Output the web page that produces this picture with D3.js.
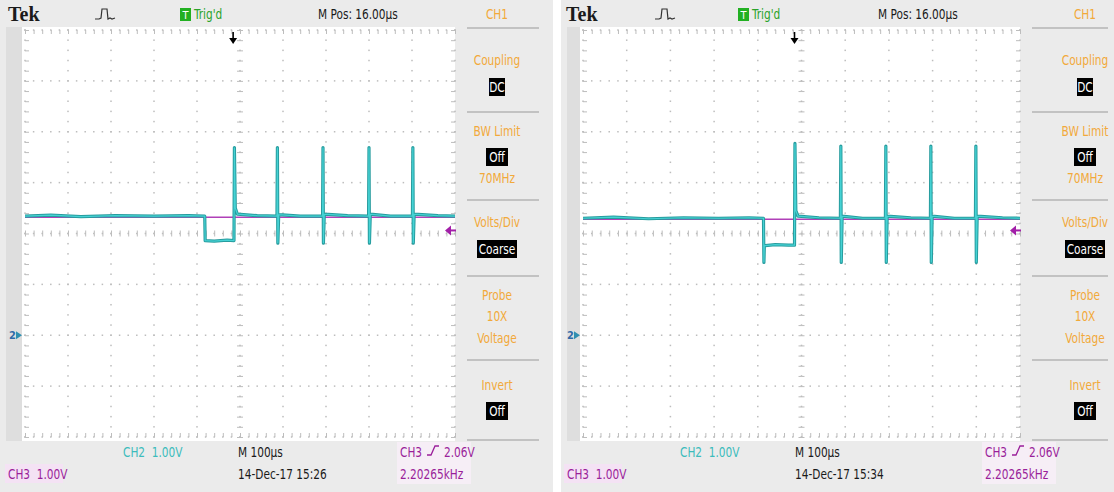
<!DOCTYPE html>
<html><head><meta charset="utf-8">
<script src="https://cdn.jsdelivr.net/npm/d3@7"></script>
<style>
body{margin:0;background:#fff}
svg{display:block}
text{font-family:"Liberation Sans Narrow","DejaVu Sans Condensed","Liberation Sans",sans-serif}
</style>
</head><body>
<svg id="c" width="1114" height="492"></svg>
<script>
// ---------------- data ----------------
const timeDomainUs = [0, 1000];          // 10 div x 100 us
const voltDomain = [-2, 6];              // 8 div x 1 V, ground marker 2 div below centre
const gridTimeTicks = d3.range(0, 1001, 100);
const gridVoltTicks = d3.range(-2, 6.001, 1);
const trigTimeUs = 484;                  // M Pos 16.00us left of centre
const trigLevelV = 2.06;

// capture 15:26 (left)
const leftTimes = [0, 60, 130, 210, 300, 380, 418, 419, 440, 470, 486, 487, 489, 494, 540, 586, 587, 588, 590, 640, 692, 693, 694, 696, 750, 799, 800, 801, 803, 850, 901, 902, 903, 905, 960, 1000];
const leftCh2 =  [2.34, 2.36, 2.33, 2.35, 2.34, 2.35, 2.34, 1.86, 1.85, 1.87, 1.86, 3.69, 2.50, 2.38, 2.35, 2.34, 3.69, 1.81, 2.37, 2.34, 2.34, 3.69, 1.81, 2.38, 2.35, 2.34, 3.69, 1.81, 2.38, 2.34, 2.34, 3.69, 1.81, 2.38, 2.35, 2.34];
// capture 15:34 (right)
const rightTimes = [0, 70, 150, 230, 310, 380, 413, 414, 415, 417, 440, 470, 484, 485, 487, 492, 540, 589, 590, 591, 593, 640, 692, 693, 694, 696, 750, 795, 796, 797, 799, 850, 898, 899, 900, 902, 960, 1000];
const rightCh2 =  [2.30, 2.32, 2.29, 2.31, 2.30, 2.31, 2.30, 1.43, 1.77, 1.76, 1.78, 1.77, 1.77, 3.77, 2.45, 2.34, 2.31, 2.30, 3.72, 1.43, 2.34, 2.30, 2.30, 3.72, 1.43, 2.34, 2.31, 2.30, 3.72, 1.43, 2.34, 2.30, 2.30, 3.72, 1.43, 2.34, 2.31, 2.30];
const ch3Times = [0, 1000];
const leftCh3 = [2.32, 2.32];
const rightCh3 = [2.28, 2.28];

const headerText = {tek: "Tek", trig: "Trig'd", mpos: "M Pos: 16.00\u00b5s", ch: "CH1"};
const menuLabels = [
  {t: "Coupling", y: 65}, {t: "DC", y: 91, box: true},
  {t: "BW Limit", y: 136}, {t: "Off", y: 161, box: true}, {t: "70MHz", y: 183},
  {t: "Volts/Div", y: 227}, {t: "Coarse", y: 253, box: true},
  {t: "Probe", y: 300}, {t: "10X", y: 321}, {t: "Voltage", y: 343},
  {t: "Invert", y: 390}, {t: "Off", y: 415, box: true}
];
const menuSeparators = [28, 112, 200, 276, 360, 440];
const footerText = {ch3: "CH3  1.00V", ch2: "CH2  1.00V", tb: "M 100\u00b5s", trigA: "CH3", trigB: "2.06V", freq: "2.20265kHz"};
const timestamps = ["14-Dec-17 15:26", "14-Dec-17 15:34"];

// ---------------- layout ----------------
const panels = [
  {x0: 0, x1: 553, gl: 25, gr: 455, menuC: 497, tek: 8, icon: 95, tbox: 180, mpos: 318, fch3: 8, fch2: 123, fm: 238, ftr: 400,
   times: leftTimes, ch2: leftCh2, ch3: leftCh3, stamp: timestamps[0]},
  {x0: 561, x1: 1114, gl: 583, gr: 1020, menuC: 1085, tek: 566, icon: 655, tbox: 738, mpos: 878, fch3: 567, fch2: 680, fm: 795, ftr: 985,
   times: rightTimes, ch2: rightCh2, ch3: rightCh3, stamp: timestamps[1]}
];
const gt = 30, gb = 437;
const SX = 0.84;

const svg = d3.select("#c");
svg.append("rect").attr("width", 1114).attr("height", 492).attr("fill", "#ffffff");

function txt(g, x, y, s, fill, anchor, size) {
  return g.append("text").attr("transform", `translate(${x},${y}) scale(${SX},1)`)
    .attr("text-anchor", anchor || "start").attr("font-size", size || 14).attr("fill", fill)
    .style("white-space", "pre").text(s);
}

panels.forEach(p => drawPanel(p));

function drawPanel(p) {
  const g = svg.append("g");
  const x = d3.scaleLinear().domain(timeDomainUs).range([p.gl, p.gr]);
  const y = d3.scaleLinear().domain(voltDomain).range([gb, gt]);

  // backgrounds
  g.append("rect").attr("x", p.x0).attr("y", 0).attr("width", p.x1 - p.x0).attr("height", 492).attr("fill", "#ebebeb");
  g.append("rect").attr("x", p.x0 + 6).attr("y", 27).attr("width", p.gl - p.x0 - 9).attr("height", 414).attr("fill", "#dedede");
  g.append("rect").attr("x", p.gl - 3).attr("y", 27).attr("width", p.gr - p.gl + 3).attr("height", 414).attr("fill", "#ffffff");

  // graticule via axes
  const gridCol = "#bdbdbd";
  const minorT = d3.range(0, 1001, 20);
  const minorV = d3.range(-2, 6.001, 0.2);
  const dots = [];
  gridTimeTicks.forEach(t => minorV.forEach(v => dots.push([x(t), y(v)])));
  gridVoltTicks.forEach(v => minorT.forEach(t => dots.push([x(t), y(v)])));
  g.append("g").selectAll("rect").data(dots).join("rect")
    .attr("x", d => d[0] - 0.75).attr("y", d => d[1] - 0.75).attr("width", 1.5).attr("height", 1.5).attr("fill", gridCol);
  const axStyle = sel => { sel.select(".domain").remove(); sel.selectAll("line").attr("stroke", gridCol); sel.selectAll("text").remove(); };
  g.append("g").attr("transform", `translate(0,${y(2)})`).call(d3.axisBottom(x).tickValues(minorT).tickSize(3)).call(axStyle);
  g.append("g").attr("transform", `translate(0,${y(2)})`).call(d3.axisTop(x).tickValues(minorT).tickSize(3)).call(axStyle);
  g.append("g").attr("transform", `translate(${x(500)},0)`).call(d3.axisLeft(y).tickValues(minorV).tickSize(3)).call(axStyle);
  g.append("g").attr("transform", `translate(${x(500)},0)`).call(d3.axisRight(y).tickValues(minorV).tickSize(3)).call(axStyle);
  g.append("g").attr("transform", `translate(0,${gt})`).call(d3.axisBottom(x).tickValues(minorT).tickSize(4)).call(axStyle);
  g.append("g").attr("transform", `translate(0,${gb})`).call(d3.axisTop(x).tickValues(minorT).tickSize(4)).call(axStyle);
  g.append("g").attr("transform", `translate(${p.gl},0)`).call(d3.axisRight(y).tickValues(minorV).tickSize(4)).call(axStyle);
  g.append("g").attr("transform", `translate(${p.gr},0)`).call(d3.axisLeft(y).tickValues(minorV).tickSize(4)).call(axStyle);

  // traces
  const line = d3.line().x(d => x(d[0])).y(d => y(d[1]));
  const ch3pts = ch3Times.map((t, i) => [t, p.ch3[i]]);
  g.append("path").attr("d", line(ch3pts)).attr("fill", "none").attr("stroke", "#b040b8").attr("stroke-width", 1.6);
  const pts = p.times.map((t, i) => [t, p.ch2[i]]);
  g.append("path").attr("d", line(pts)).attr("fill", "none").attr("stroke", "#279c9e").attr("stroke-width", 3.2).attr("stroke-linejoin", "round");
  g.append("path").attr("d", line(pts)).attr("fill", "none").attr("stroke", "#45d2d4").attr("stroke-width", 1.2);

  // trigger position arrow
  const tx = x(trigTimeUs);
  g.append("line").attr("x1", tx).attr("x2", tx).attr("y1", 32).attr("y2", 40).attr("stroke", "#000").attr("stroke-width", 1.6);
  g.append("path").attr("d", `M${tx-4},38 L${tx+4},38 L${tx},44 Z`).attr("fill", "#000");
  // trigger level marker (CH3)
  const ty = y(trigLevelV);
  g.append("path").attr("d", `M${p.gr-10},${ty} L${p.gr-4},${ty-5} L${p.gr-4},${ty+5} Z`).attr("fill", "#a21fa8");
  g.append("line").attr("x1", p.gr - 6).attr("x2", p.gr + 1).attr("y1", ty).attr("y2", ty).attr("stroke", "#a21fa8").attr("stroke-width", 2);
  // ground marker CH2
  const gy = y(0);
  g.append("text").attr("x", p.gl - 16).attr("y", gy + 4).attr("font-size", 11).attr("font-weight", "bold").attr("fill", "#2f6aa8").text("2");
  g.append("path").attr("d", `M${p.gl-9},${gy-4} L${p.gl-3},${gy} L${p.gl-9},${gy+4} Z`).attr("fill", "#2f8fb0");

  // header
  g.append("text").attr("x", p.tek).attr("y", 21)
    .attr("font-weight", "bold").attr("font-size", 20).attr("fill", "#1a1a1a").style("font-family", "'Liberation Serif','DejaVu Serif',serif").text(headerText.tek);
  const ix = p.icon;
  g.append("path").attr("d", `M${ix},19 L${ix+4},19 L${ix+6},18 L${ix+7},9 L${ix+12},9 L${ix+13},19 L${ix+15},18 L${ix+17},19 L${ix+20},18`)
    .attr("fill", "none").attr("stroke", "#333").attr("stroke-width", 1.2);
  g.append("rect").attr("x", p.tbox).attr("y", 8).attr("width", 11).attr("height", 13).attr("fill", "#22b022");
  g.append("text").attr("x", p.tbox + 5.5).attr("y", 19).attr("text-anchor", "middle").attr("font-size", 11).attr("fill", "#fff").text("T");
  txt(g, p.tbox + 14, 19, headerText.trig, "#2aa32a");
  txt(g, p.mpos, 19, headerText.mpos, "#1a1a1a");
  txt(g, p.menuC, 19, headerText.ch, "#f2a93a", "middle");

  // side menu
  menuSeparators.forEach(sy => g.append("line").attr("x1", p.gr + 12).attr("x2", Math.min(p.x1 - 6, p.menuC + 42)).attr("y1", sy).attr("y2", sy)
    .attr("stroke", "#9a9a9a").attr("stroke-width", 1.2));
  menuLabels.forEach(m => {
    if (m.box) {
      const w = m.t.length * 6.0 + 4;
      g.append("rect").attr("x", p.menuC - w / 2).attr("y", m.y - 13).attr("width", w).attr("height", 18).attr("fill", "#000");
      txt(g, p.menuC, m.y + 1, m.t, "#fff", "middle");
    } else {
      txt(g, p.menuC, m.y, m.t, "#f2a93a", "middle");
    }
  });

  // footer
  g.append("rect").attr("x", p.fch3 - 3).attr("y", 464).attr("width", 58).attr("height", 19).attr("fill", "#f4e2f4");
  txt(g, p.fch3, 479, footerText.ch3, "#9a1f9a");
  txt(g, p.fch2, 457, footerText.ch2, "#3cbcbc");
  txt(g, p.fm, 457, footerText.tb, "#1a1a1a");
  txt(g, p.fm, 479, p.stamp, "#1a1a1a");
  g.append("rect").attr("x", p.ftr - 3).attr("y", 442).attr("width", 74).attr("height", 42).attr("fill", "#f6eef6");
  txt(g, p.ftr, 457, footerText.trigA, "#9a1f9a");
  const ex = p.ftr + 27;
  g.append("path").attr("d", `M${ex},455 L${ex+4},455 L${ex+8},446 L${ex+12},446`).attr("fill", "none").attr("stroke", "#9a1f9a").attr("stroke-width", 1.3);
  txt(g, ex + 17, 457, footerText.trigB, "#9a1f9a");
  txt(g, p.ftr, 479, footerText.freq, "#9a1f9a");
}
</script>
</body></html>
